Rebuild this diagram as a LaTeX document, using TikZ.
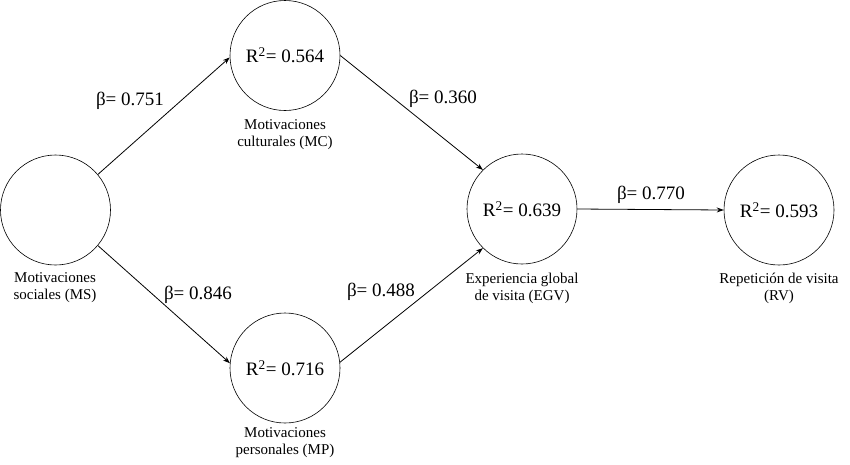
\documentclass[tikz,border=0pt]{standalone}
\usepackage{fontspec}
\setmainfont{Liberation Serif}
\newfontfamily\tnr{Liberation Serif}
\usetikzlibrary{arrows.meta}
\begin{document}
\begin{tikzpicture}[x=1pt,y=-1pt,
  lv/.style={circle,draw,line width=0.6pt,minimum size=110pt,inner sep=0pt,font=\tnr\fontsize{19}{21}\selectfont},
  lab/.style={align=center,font=\tnr\fontsize{15}{17}\selectfont,inner sep=0pt},
  coef/.style={font=\tnr\fontsize{19}{21}\selectfont,inner sep=0pt},
  arr/.style={-{Stealth[length=7pt,width=5pt]},line width=0.8pt}]
\useasboundingbox (0,0) rectangle (850,464);
\node[lv] (ms) at (55.5,210) {};
\node[lv] (mc) at (285,55.5) {R\textsuperscript{2}= 0.564};
\node[lv] (mp) at (285,368) {R\textsuperscript{2}= 0.716};
\node[lv] (egv) at (522,209) {R\textsuperscript{2}= 0.639};
\node[lv] (rv) at (779,210) {R\textsuperscript{2}= 0.593};
\node[lab] (msl) at (55,287.5) {Motivaciones\\sociales (MS)};
\node[lab] (mcl) at (285,135) {Motivaciones\\culturales (MC)};
\node[lab] (mpl) at (285,443) {Motivaciones\\personales (MP)};
\node[lab] (egvl) at (522,288.5) {Experiencia global\\de visita (EGV)};
\node[lab] (rvl) at (779,288.5) {Repetición de visita\\(RV)};
\draw[arr] (ms.40) -- (mc.182);
\draw[arr] (mc.east) -- (egv.135);
\draw[arr] (ms.-40) -- (mp.175);
\draw[arr] (mp.6) -- (egv.225);
\draw[arr] (egv.east) -- (rv.west);
\node[coef] (b1) at (130,101) {β= 0.751};
\node[coef] (b2) at (443,99) {β= 0.360};
\node[coef] (b3) at (198,295) {β= 0.846};
\node[coef] (b4) at (381,292) {β= 0.488};
\node[coef] (b5) at (651,195) {β= 0.770};
\end{tikzpicture}
\end{document}
